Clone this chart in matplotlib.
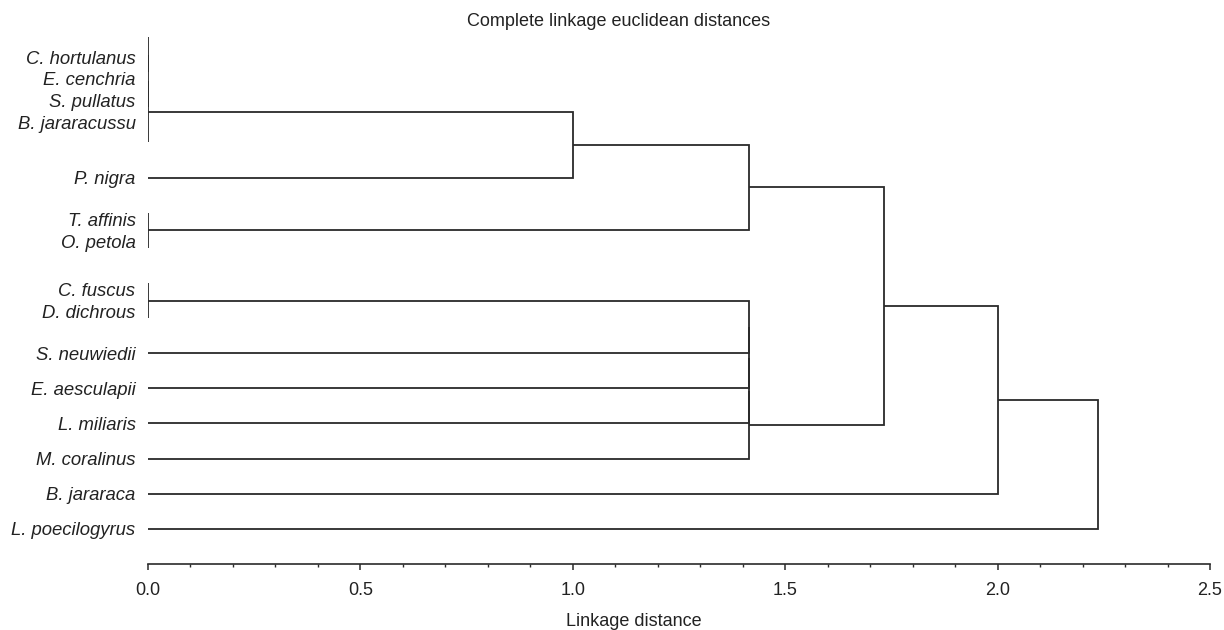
import numpy as np
import matplotlib
matplotlib.use("Agg")
import matplotlib.pyplot as plt

plt.rcParams['font.family'] = ['Liberation Sans', 'DejaVu Sans']

# leaf order, top to bottom
leaves = ["C. hortulanus", "E. cenchria", "S. pullatus", "B. jararacussu",
          "P. nigra", "T. affinis", "O. petola", "C. fuscus", "D. dichrous",
          "S. neuwiedii", "E. aesculapii", "L. miliaris", "M. coralinus",
          "B. jararaca", "L. poecilogyrus"]

# merges (scipy style ids: leaves 0..14, new clusters from 15 on)
merge_left = [0, 15, 16, 5, 7, 17, 20, 19, 22, 23, 24, 21, 26, 27]
merge_right = [1, 2, 3, 6, 8, 4, 18, 9, 10, 11, 12, 25, 13, 14]
merge_height = [0.0, 0.0, 0.0, 0.0, 0.0, 1.0, 1.414, 1.414, 1.414, 1.414,
                1.414, 1.732, 2.0, 2.236]

xticks_major = [0.0, 0.5, 1.0, 1.5, 2.0, 2.5]

line_col = "#2a2a2a"
text_col = "#222222"

n = len(leaves)
ypos = {i: float(i) for i in range(n)}
hpos = {i: 0.0 for i in range(n)}
members = {i: [i] for i in range(n)}

fig = plt.figure(figsize=(12.24, 6.3), dpi=100)
ax = fig.add_axes([148 / 1224, 66 / 630, 1062 / 1224, 548 / 630])

for k, (a, b, h) in enumerate(zip(merge_left, merge_right, merge_height)):
    ya, yb = ypos[a], ypos[b]
    ax.plot([hpos[a], h, h, hpos[b]], [ya, ya, yb, yb],
            color=line_col, lw=1.3, solid_joinstyle='miter',
            solid_capstyle='butt', snap=True)
    node = n + k
    ypos[node] = (ya + yb) / 2
    hpos[node] = h
    members[node] = members[a] + members[b]

# labels of zero-distance groups are packed closer together
label_y = [float(i) for i in range(n)]
done = set()
for k in reversed(range(len(merge_height))):
    node = n + k
    if merge_height[k] == 0.0 and not (set(members[node]) & done):
        grp = sorted(members[node])
        c = np.mean(grp)
        for j, leaf in enumerate(grp):
            label_y[leaf] = c + (j - (len(grp) - 1) / 2) * 0.62
        done.update(grp)

ax.set_yticks(label_y, leaves, fontstyle='italic', fontsize=13.3, color=text_col)
ax.tick_params(axis='y', length=0, pad=9)

ax.set_xlim(0, 2.5)
ax.set_ylim(15.0, -0.6)
ax.set_xticks(xticks_major)
ax.set_xticklabels([f"{v:.1f}" for v in xticks_major], fontsize=13, color=text_col)
ax.set_xticks(np.arange(0, 2.51, 0.1), minor=True)
ax.tick_params(axis='x', which='major', length=4, width=1.1, color=line_col, pad=9)
ax.tick_params(axis='x', which='minor', length=2, width=1, color=line_col)

for s in ['left', 'right', 'top']:
    ax.spines[s].set_visible(False)
ax.spines['bottom'].set_color(line_col)
ax.spines['bottom'].set_linewidth(1.2)

fig.text(619 / 1224, 1 - 22 / 630, "Complete linkage euclidean distances",
         ha='center', va='center', fontsize=13, color=text_col)
fig.text(634 / 1224, 1 - 621 / 630, "Linkage distance",
         ha='center', va='center', fontsize=13, color=text_col)

fig.savefig("out.png", dpi=100)
